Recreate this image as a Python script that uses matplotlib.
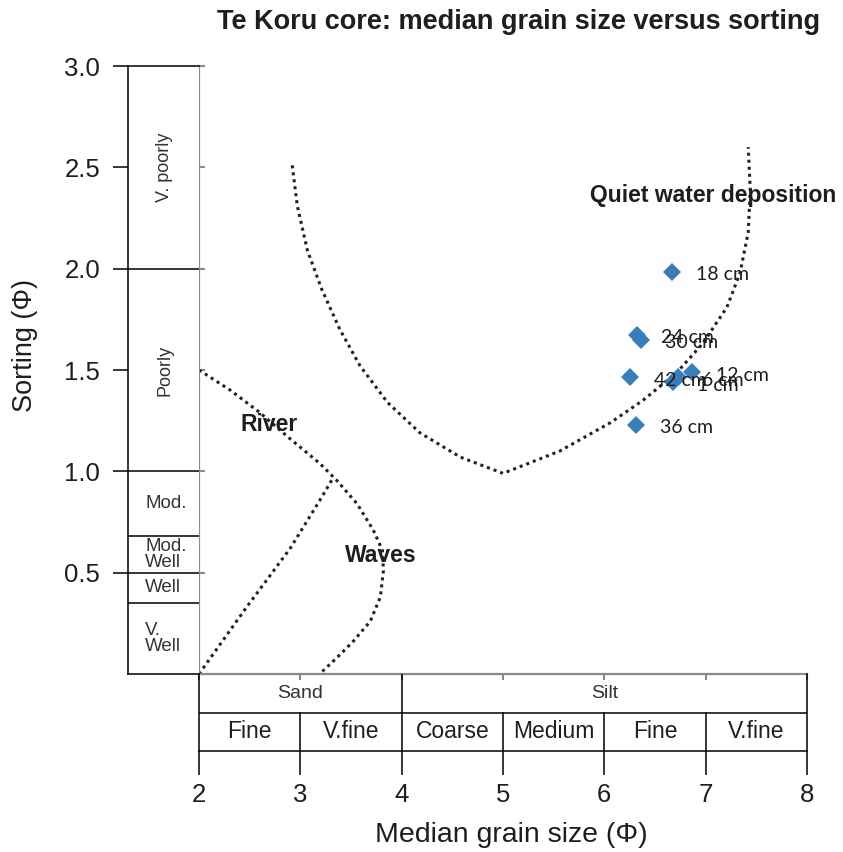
import matplotlib
matplotlib.use("Agg")
import matplotlib.pyplot as plt

# ---- data -------------------------------------------------------------
depth_labels = ["1 cm", "6 cm", "12 cm", "18 cm", "24 cm", "30 cm", "36 cm", "42 cm"]
median_phi = [6.68, 6.73, 6.87, 6.67, 6.32, 6.36, 6.31, 6.25]
sorting_phi = [1.44, 1.465, 1.49, 1.985, 1.675, 1.65, 1.23, 1.465]

# process-field boundaries (median phi, sorting phi)
quiet_x = [2.92, 2.97, 3.07, 3.21, 3.39, 3.59, 3.86, 4.18, 4.58, 5.0,
           5.56, 6.06, 6.38, 6.72, 6.97, 7.21, 7.34, 7.42, 7.44, 7.42]
quiet_y = [2.51, 2.31, 2.09, 1.90, 1.70, 1.52, 1.34, 1.19, 1.07, 0.99,
           1.10, 1.24, 1.35, 1.49, 1.63, 1.81, 1.98, 2.18, 2.39, 2.60]
river_x = [2.0, 2.31, 2.60, 2.90, 3.19, 3.36, 3.56, 3.72, 3.81, 3.82,
           3.79, 3.69, 3.52, 3.36, 3.19]
river_y = [1.50, 1.40, 1.29, 1.16, 1.04, 0.955, 0.84, 0.71, 0.61, 0.51,
           0.38, 0.26, 0.16, 0.08, 0.0]
waves_x = [2.0, 2.47, 2.90, 3.19, 3.32]
waves_y = [0.0, 0.33, 0.62, 0.855, 0.965]

# sorting classes: (label, lower, upper)
sorting_classes = [("V.\nWell", 0.0, 0.35), ("Well", 0.35, 0.5),
                   ("Mod.\nWell", 0.5, 0.68), ("Mod.", 0.68, 1.0),
                   ("Poorly", 1.0, 2.0), ("V. poorly", 2.0, 3.0)]
# grain-size classes
coarse_classes = [("Sand", 2, 4), ("Silt", 4, 8)]
fine_classes = [("Fine", 2, 3), ("V.fine", 3, 4), ("Coarse", 4, 5),
                ("Medium", 5, 6), ("Fine", 6, 7), ("V.fine", 7, 8)]
x_ticks = [2, 3, 4, 5, 6, 7, 8]
y_ticks = [0.5, 1.0, 1.5, 2.0, 2.5, 3.0]

# ---- layout -------------------------------------------------------------
W, H = 843, 852
fig = plt.figure(figsize=(W / 100, H / 100), dpi=100)
plt.rcParams["font.family"] = ["Liberation Sans", "DejaVu Sans"]
TXT = "#1e1e1e"
SPINE = "#8a8a8a"


def frame(l, t, r, b):
    return [l / W, 1 - b / H, (r - l) / W, (b - t) / H]


X0, X1, Y0, Y1 = 199, 807, 66, 674
ax = fig.add_axes(frame(X0, Y0, X1, Y1))
col = fig.add_axes(frame(128, Y0, X0, Y1))
tab = fig.add_axes(frame(X0, Y1, X1, 751))

# main plotting area
ax.set_xlim(2, 8)
ax.set_ylim(0, 3)
ax.patch.set_alpha(0)
for s in ("top", "right"):
    ax.spines[s].set_visible(False)
for s in ("left", "bottom"):
    ax.spines[s].set_color(SPINE)
    ax.spines[s].set_linewidth(1.6)
    ax.spines[s].set_zorder(5)
ax.set_xticks(x_ticks)
ax.set_yticks(y_ticks)
ax.tick_params(axis="y", direction="in", length=4, width=1.5, color=SPINE,
               labelleft=False)
ax.tick_params(axis="x", direction="out", length=4, width=1.5, color=SPINE,
               labelbottom=False)

dots = dict(color="#222222", linestyle=(0, (1, 1.3)), linewidth=2.2,
            dash_capstyle="butt", clip_on=False)
ax.plot(quiet_x, quiet_y, **dots)
ax.plot(river_x, river_y, **dots)
ax.plot(waves_x, waves_y, **dots)

ax.text(2.41, 1.23, "River", fontsize=16.5, fontweight="bold", color=TXT,
        va="center", ha="left")
ax.text(3.44, 0.585, "Waves", fontsize=16.5, fontweight="bold", color=TXT,
        va="center", ha="left")
ax.text(5.86, 2.36, "Quiet water deposition", fontsize=16.5, fontweight="bold",
        color=TXT, va="center", ha="left", clip_on=False)

ax.plot(median_phi, sorting_phi, linestyle="none", marker="D", markersize=9,
        color="#3a7dbb", markeredgewidth=0, zorder=6, clip_on=False)
for lab, x, y in zip(depth_labels, median_phi, sorting_phi):
    ax.annotate(lab, (x, y), xytext=(24, -3), textcoords="offset pixels",
                fontsize=14, family=["Lato", "DejaVu Sans"], color=TXT,
                va="center", ha="left", zorder=7)

# sorting-class column
col.set_xlim(0, 1)
col.set_ylim(0, 3)
col.spines["right"].set_visible(False)
for s in ("left", "top", "bottom"):
    col.spines[s].set_linewidth(1.1)
col.set_xticks([])
col.set_yticks(y_ticks)
col.set_yticklabels([f"{v:.1f}" for v in y_ticks])
col.tick_params(axis="y", length=11, width=1.1, pad=9, labelsize=18.5,
                labelcolor=TXT)
for lab, lo, hi in sorting_classes:
    if hi < 3:
        col.axhline(hi, color="black", linewidth=1.1)
    mid = (lo + hi) / 2
    if lab in ("Poorly", "V. poorly"):
        col.text(0.52, mid, lab, rotation=90, ha="center", va="center",
                 fontsize=13, color="#333333")
    else:
        col.text(0.24, mid, lab, ha="left", va="center", fontsize=13.5,
                 color="#333333", linespacing=0.95)

fig.text(25 / W, 1 - 345 / H, "Sorting (\u03a6)", rotation=90, fontsize=19.5,
         color=TXT, ha="center", va="center")

# grain-size class table
tab.set_xlim(2, 8)
tab.set_ylim(0, 2)
tab.patch.set_alpha(0)
tab.spines["top"].set_visible(False)
for s in ("left", "right", "bottom"):
    tab.spines[s].set_linewidth(1.1)
tab.axhline(1, color="black", linewidth=1.1)
for lab, lo, hi in coarse_classes:
    if lo > 2:
        tab.plot([lo, lo], [1, 2], color="black", linewidth=1.1)
    tab.text((lo + hi) / 2, 1.5, lab, ha="center", va="center", fontsize=14,
             color="#333333")
for lab, lo, hi in fine_classes:
    if lo > 2:
        tab.plot([lo, lo], [0, 1], color="black", linewidth=1.1)
    tab.text((lo + hi) / 2, 0.5, lab, ha="center", va="center", fontsize=16.5,
             color=TXT)
tab.set_yticks([])
tab.set_xticks(x_ticks)
tab.set_xticklabels([str(v) for v in x_ticks])
tab.tick_params(axis="x", length=17, width=1.1, pad=6, labelsize=18.5,
                labelcolor=TXT)

fig.text(511 / W, 1 - 835 / H, "Median grain size (\u03a6)", fontsize=20.5,
         color=TXT, ha="center", va="center")

fig.text(519 / W, 1 - 22 / H, "Te Koru core: median grain size versus sorting",
         ha="center", va="center", fontsize=19.5, fontweight="bold", color=TXT)

fig.savefig("out.png", dpi=100)
